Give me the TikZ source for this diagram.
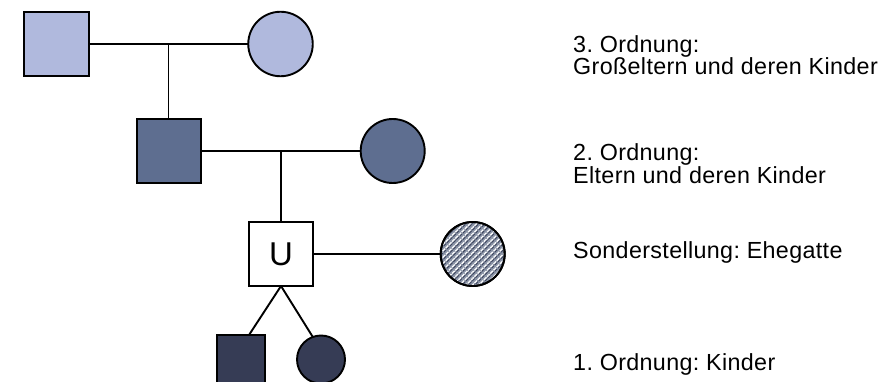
\documentclass[tikz,border=0pt]{standalone}
\usepackage{fontspec}
\setmainfont{Liberation Sans}
\usetikzlibrary{calc,patterns.meta}
\definecolor{gen3}{RGB}{176,185,221}
\definecolor{gen2}{RGB}{94,110,144}
\definecolor{gen1}{RGB}{54,60,85}
\definecolor{hatchbase}{RGB}{140,149,168}
\definecolor{hatchdark}{RGB}{60,68,92}
\tikzset{
  person/.style={draw=black,line width=1.9pt,inner sep=0pt,outer sep=0pt},
  male/.style={person,rectangle,minimum size=#1},
  female/.style={person,circle,minimum size=#1},
  link/.style={draw=black,line width=1.9pt},
  label/.style={anchor=base west,inner sep=0pt,font=\fontsize{23.3}{26}\selectfont\addfontfeature{LetterSpace=1.5}}
}
\frenchspacing
\begin{document}
\begin{tikzpicture}[x=1pt,y=-1pt]
\useasboundingbox (0,0) rectangle (894,382);
% generation 3
\node[male=64.5pt,fill=gen3] (gf) at (56.5,44) {};
\node[female=64.5pt,fill=gen3] (gm) at (280.5,44) {};
% generation 2
\node[male=64pt,fill=gen2] (f) at (169,151) {};
\node[female=64pt,fill=gen2] (m) at (392.7,151) {};
% generation U
\node[male=64pt,fill=white,font=\fontsize{33}{36}\selectfont] (u) at (281,254) {U};
\node[female=64pt,fill=hatchbase] (sp) at (472.7,254) {};
\path[pattern={Lines[angle=45,distance=4.5pt,line width=1.3pt]},pattern color=white] (sp.center) circle (31pt);
\path[pattern={Lines[angle=45,distance=4.5pt,line width=0.9pt,xshift=2.2pt]},pattern color=hatchdark] (sp.center) circle (31pt);
\path[pattern={Lines[angle=-45,distance=4.5pt,line width=0.7pt]},pattern color=hatchbase] (sp.center) circle (31pt);
\draw[line width=1.9pt] (sp.center) circle (32pt);
% generation 1
\node[male=48pt,fill=gen1] (c1) at (241,359) {};
\node[female=48pt,fill=gen1] (c2) at (321,359.5) {};
% connectors
\coordinate (j3) at ($(gf.east)!0.5!(gm.west)$);
\coordinate (j2) at ($(f.east)!0.5!(m.west)$);
\draw[link] (gf.east) -- (gm.west);
\draw[link] (j3) -- (j3 |- f.north);
\draw[link] (f.east) -- (m.west);
\draw[link] (j2) -- (j2 |- u.north);
\draw[link,line width=1.5pt] (u.east) -- (sp.west);
\draw[link] (u.south) -- ([xshift=8pt]c1.north);
\draw[link] (u.south) -- (c2.110);
% labels
\node[label] (t3a) at (573,52.5) {3. Ordnung:};
\node[label] (t3b) at (573,75) {Großeltern und deren Kinder};
\node[label] (t2a) at (573,160.5) {2. Ordnung:};
\node[label] (t2b) at (573,183.5) {Eltern und deren Kinder};
\node[label] (ts) at (573,258.5) {Sonderstellung: Ehegatte};
\node[label] (t1) at (573,370.7) {1. Ordnung: Kinder};
\end{tikzpicture}
\end{document}
